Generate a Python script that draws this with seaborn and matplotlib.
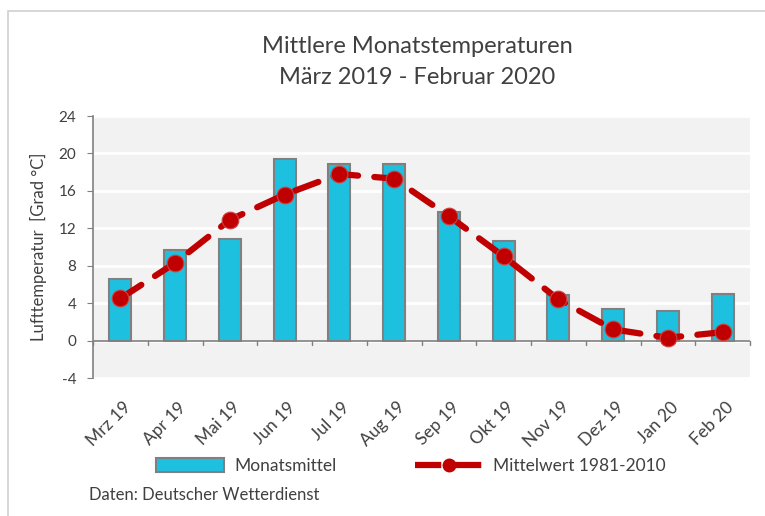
import numpy as np
import pandas as pd
import matplotlib
matplotlib.use("Agg")
import matplotlib.pyplot as plt
import seaborn as sns
from matplotlib.lines import Line2D
from matplotlib.patches import Patch, Rectangle

# Daten
monate = ['Mrz 19', 'Apr 19', 'Mai 19', 'Jun 19', 'Jul 19', 'Aug 19',
          'Sep 19', 'Okt 19', 'Nov 19', 'Dez 19', 'Jan 20', 'Feb 20']
monatsmittel = [6.6, 9.7, 10.9, 19.4, 18.9, 18.9, 13.7, 10.6, 4.9, 3.4, 3.2, 5.0]
mittelwert_1981_2010 = [4.5, 8.3, 12.9, 15.6, 17.8, 17.3, 13.3, 9.0, 4.4, 1.2, 0.3, 0.9]
y_ticks = [-4, 0, 4, 8, 12, 16, 20, 24]

df = pd.DataFrame({'Monat': monate, 'Monatsmittel': monatsmittel,
                   'Mittelwert': mittelwert_1981_2010})

sns.set_style("white")
plt.rcParams['font.family'] = ['Lato', 'DejaVu Sans']
plt.rcParams['axes.unicode_minus'] = False

bar_col = '#1EC0DF'
line_col = '#C00000'
grey = '#808080'
text_col = '#404040'

fig = plt.figure(figsize=(7.65, 5.16), dpi=100)
ax = fig.add_axes([93 / 765, 1 - 378 / 516, 657 / 765, 262 / 516])
ax.set_facecolor('#F2F2F2')

# Balken
sns.barplot(data=df, x='Monat', y='Monatsmittel', ax=ax, color=bar_col,
            width=0.4, edgecolor=grey, linewidth=1.5, saturation=1, zorder=3)

# Mittelwert-Linie
x = np.arange(len(monate))
ax.plot(x, df['Mittelwert'], color=line_col, linestyle=(0, (4, 2.6)),
        linewidth=4.5, zorder=4, dash_capstyle='round')
ax.plot(x, df['Mittelwert'], linestyle='none', marker='o', markersize=12,
        color=line_col, markeredgecolor='#D04040', markeredgewidth=0.8, zorder=5)

ax.set_ylim(-4, 24)
ax.set_xlim(-0.5, len(monate) - 0.5)
ax.set_yticks(y_ticks)
ax.yaxis.grid(True, color='white', linewidth=2, zorder=0)
ax.set_axisbelow(True)
ax.axhline(0, color=grey, linewidth=1.2, zorder=2)

for side in ['top', 'right', 'bottom']:
    ax.spines[side].set_visible(False)
ax.spines['left'].set_color(grey)
ax.spines['left'].set_linewidth(1.2)

ax.tick_params(axis='y', left=True, length=4, color=grey, labelsize=11,
               labelcolor=text_col, pad=8)
ax.tick_params(axis='x', bottom=False, labelsize=12.5, labelcolor=text_col)
ax.set_xticks(x)
ax.set_xticklabels(monate, rotation=45, ha='right', va='center',
                   rotation_mode='anchor')
for t in ax.get_xticklabels():
    t.set_transform(t.get_transform() + matplotlib.transforms.ScaledTranslation(
        0.08, -0.17, fig.dpi_scale_trans))

# Kategorie-Ticks auf der Nulllinie
for b in np.arange(-0.5, len(monate), 1.0):
    ax.plot([b, b], [0, -0.45], color=grey, linewidth=1, zorder=2, clip_on=False)

ax.set_xlabel('')
ax.set_ylabel('Lufttemperatur  [Grad °C]', fontsize=12, color=text_col, labelpad=8)

fig.text(417 / 765, 1 - 47 / 516, 'Mittlere Monatstemperaturen', ha='center',
         va='center', fontsize=17, color=text_col)
fig.text(417 / 765, 1 - 77 / 516, 'März 2019 - Februar 2020', ha='center',
         va='center', fontsize=17, color=text_col)

# Legende
handles = [Patch(facecolor=bar_col, edgecolor=grey, linewidth=1.5),
           Line2D([0], [0], color=line_col, linewidth=4.5, linestyle=(0, (4.2, 2.2)),
                  marker='o', markersize=9)]
fig.legend(handles, ['Monatsmittel', 'Mittelwert 1981-2010'], loc='center',
           bbox_to_anchor=(411 / 765, 1 - 466 / 516), ncol=2, frameon=False,
           fontsize=12.5, handlelength=3.9, handleheight=0.9, handletextpad=0.6,
           columnspacing=4.5, labelcolor=text_col)

fig.text(89 / 765, 1 - 495 / 516, 'Daten: Deutscher Wetterdienst', ha='left',
         va='center', fontsize=12, color=text_col)

# Rahmen
fig.add_artist(Rectangle((8 / 765, -0.1), 1.2, 1 - 11 / 516 + 0.1,
                         transform=fig.transFigure, fill=False,
                         edgecolor='#D0D0D0', linewidth=1.2))

fig.savefig('out.png', dpi=100)
